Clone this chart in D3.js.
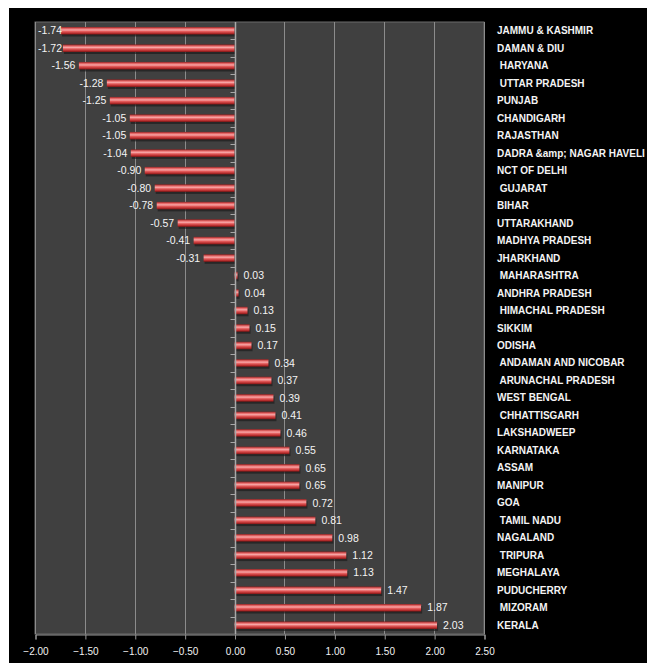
<!DOCTYPE html>
<html>
<head>
<meta charset="utf-8">
<script src="https://cdn.jsdelivr.net/npm/d3@7"></script>
<style>
  html, body { margin: 0; padding: 0; background: #ffffff; }
  svg { display: block; }
</style>
</head>
<body>
<svg id="chart" width="647" height="663"></svg>
<script>
// States / UTs, listed top to bottom
const states = [
  "JAMMU & KASHMIR", "DAMAN & DIU", " HARYANA", " UTTAR PRADESH", "PUNJAB",
  "CHANDIGARH", "RAJASTHAN", "DADRA &amp; NAGAR HAVELI", "NCT OF DELHI", " GUJARAT",
  "BIHAR", "UTTARAKHAND", "MADHYA PRADESH", "JHARKHAND", " MAHARASHTRA",
  "ANDHRA PRADESH", " HIMACHAL PRADESH", "SIKKIM", "ODISHA", " ANDAMAN AND NICOBAR",
  " ARUNACHAL PRADESH", "WEST BENGAL", " CHHATTISGARH", "LAKSHADWEEP", "KARNATAKA",
  "ASSAM", "MANIPUR", "GOA", " TAMIL NADU", "NAGALAND",
  " TRIPURA", "MEGHALAYA", "PUDUCHERRY", " MIZORAM", "KERALA"
];
const values = [
  -1.74, -1.72, -1.56, -1.28, -1.25,
  -1.05, -1.05, -1.04, -0.90, -0.80,
  -0.78, -0.57, -0.41, -0.31, 0.03,
  0.04, 0.13, 0.15, 0.17, 0.34,
  0.37, 0.39, 0.41, 0.46, 0.55,
  0.65, 0.65, 0.72, 0.81, 0.98,
  1.12, 1.13, 1.47, 1.87, 2.03
];
const xTicks = [-2.0, -1.5, -1.0, -0.5, 0.0, 0.5, 1.0, 1.5, 2.0, 2.5];

const data = states.map((s, i) => ({ state: s, value: values[i] }));

const svg = d3.select("#chart");

// black card behind the chart
svg.append("rect").attr("x", 9).attr("y", 8).attr("width", 638).attr("height", 655).attr("fill", "#000000");

const plot = { left: 35, right: 484, top: 22, bottom: 634 };

const x = d3.scaleLinear().domain([-2, 2.5]).range([plot.left, plot.right]);
const y = d3.scaleBand().domain(d3.range(data.length)).range([plot.top, plot.bottom]).paddingInner(0.57).paddingOuter(0.285);
const band = d3.scaleBand().domain(d3.range(data.length)).range([plot.top, plot.bottom]);

const defs = svg.append("defs");
const grad = defs.append("linearGradient").attr("id", "barGrad").attr("x1", 0).attr("y1", 0).attr("x2", 0).attr("y2", 1);
[["0%", "#8e1f1f"], ["22%", "#e86a6a"], ["40%", "#f7a7a7"], ["60%", "#e35a5a"], ["85%", "#b42a2a"], ["100%", "#7a1616"]]
  .forEach(([o, c]) => grad.append("stop").attr("offset", o).attr("stop-color", c));

// plot area
svg.append("rect")
  .attr("x", plot.left).attr("y", plot.top)
  .attr("width", plot.right - plot.left).attr("height", plot.bottom - plot.top)
  .attr("fill", "#404040").attr("stroke", "#6a6a6a").attr("stroke-width", 1);

// vertical gridlines
svg.append("g").selectAll("line").data(xTicks).join("line")
  .attr("x1", d => Math.round(x(d)) + 0.5).attr("x2", d => Math.round(x(d)) + 0.5)
  .attr("y1", plot.top).attr("y2", plot.bottom)
  .attr("stroke", "#8c8c8c").attr("stroke-width", 1);

// bottom value axis
const xAxis = svg.append("g")
  .attr("transform", `translate(0.5,${plot.bottom + 0.5})`)
  .call(d3.axisBottom(x).tickValues(xTicks).tickFormat(d3.format(".2f")).tickSize(5).tickPadding(8));
xAxis.select(".domain").attr("stroke", "#9a9a9a");
xAxis.selectAll(".tick line").attr("stroke", "#9a9a9a");
xAxis.selectAll("text")
  .attr("fill", "#f2f2f2")
  .style("font-family", "'Liberation Sans', Arial, sans-serif")
  .style("font-size", "10px");

// bar shadows
svg.append("g").selectAll("rect").data(data).join("rect")
  .attr("x", d => Math.min(x(0), x(d.value)) + 1)
  .attr("y", (d, i) => y(i) + 2)
  .attr("width", d => Math.max(1.5, Math.abs(x(d.value) - x(0))))
  .attr("height", y.bandwidth())
  .attr("fill", "#1c1c1c").attr("opacity", 0.7);

// bars
svg.append("g").selectAll("rect").data(data).join("rect")
  .attr("x", d => Math.min(x(0), x(d.value)))
  .attr("y", (d, i) => y(i))
  .attr("width", d => Math.max(1.5, Math.abs(x(d.value) - x(0))))
  .attr("height", y.bandwidth())
  .attr("fill", "url(#barGrad)");

// category axis through zero, ticks on band boundaries
const zx = Math.round(x(0)) + 0.5;
svg.append("line").attr("x1", zx).attr("x2", zx).attr("y1", plot.top).attr("y2", plot.bottom)
  .attr("stroke", "#a8a8a8").attr("stroke-width", 1.5);
svg.append("g").selectAll("line").data(d3.range(1, data.length)).join("line")
  .attr("x1", zx - 5).attr("x2", zx)
  .attr("y1", i => Math.round(band(i)) + 0.5).attr("y2", i => Math.round(band(i)) + 0.5)
  .attr("stroke", "#a8a8a8");

// value labels
svg.append("g").selectAll("text").data(data).join("text")
  .attr("x", d => d.value < 0 ? Math.max(x(d.value) - 3.5, plot.left + 27) : x(d.value) + 6)
  .attr("y", (d, i) => band(i) + band.bandwidth() / 2)
  .attr("dy", "0.35em")
  .attr("text-anchor", d => d.value < 0 ? "end" : "start")
  .attr("fill", "#f4f4f4")
  .style("font-family", "'Liberation Sans', Arial, sans-serif")
  .style("font-size", "10.5px")
  .text(d => d.value.toFixed(2));

// category labels to the right of the plot
svg.append("g").selectAll("text").data(data).join("text")
  .attr("x", 497)
  .attr("y", (d, i) => band(i) + band.bandwidth() / 2)
  .attr("dy", "0.35em")
  .attr("xml:space", "preserve")
  .style("white-space", "pre")
  .attr("fill", "#f4f4f4")
  .style("font-family", "'Liberation Sans', Arial, sans-serif")
  .style("font-size", "10px")
  .style("font-weight", "bold")
  .text(d => d.state);
</script>
</body>
</html>
